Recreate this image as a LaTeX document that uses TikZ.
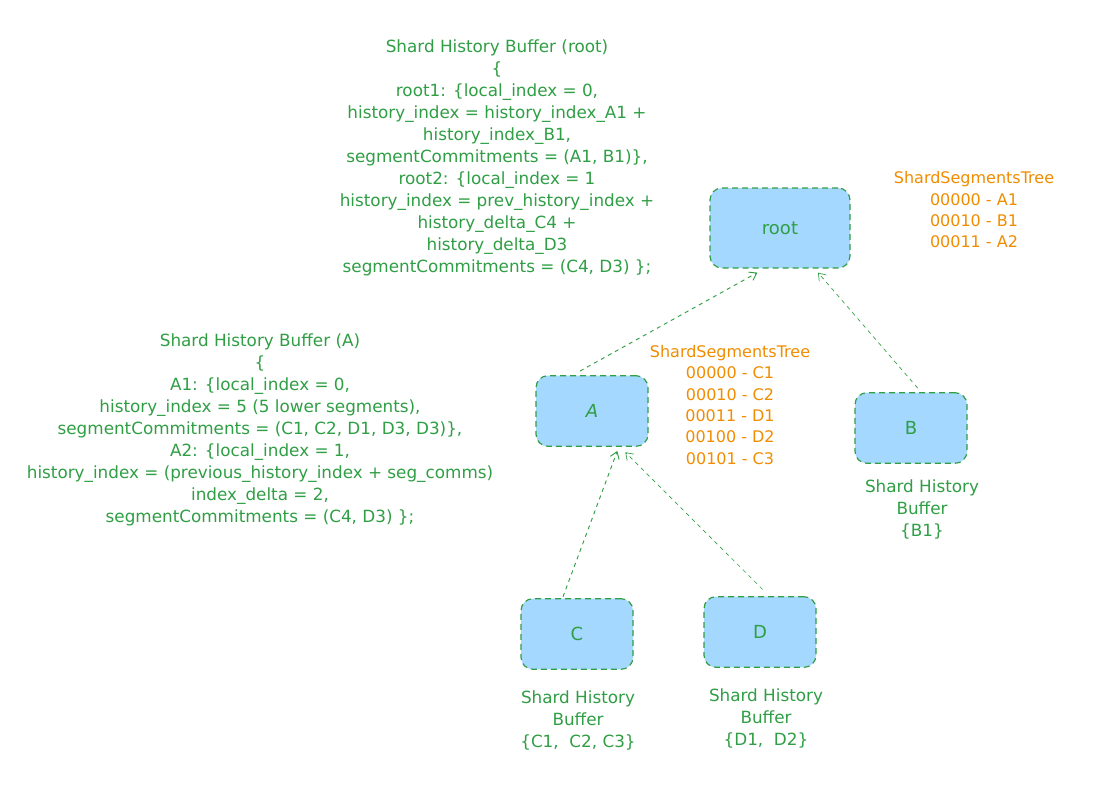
\documentclass[tikz,border=0pt]{standalone}
\usepackage{fontspec}
\setmainfont{DejaVu Sans}
\usetikzlibrary{arrows.meta}
\definecolor{shardGreen}{HTML}{2F9E44}
\definecolor{shardBlue}{HTML}{A5D8FF}
\definecolor{shardOrange}{HTML}{F08C00}
\begin{document}
\begin{tikzpicture}[x=0.75pt, y=-0.75pt,
  shardbox/.style={draw=shardGreen, fill=shardBlue, dash pattern=on 4.5pt off 3pt,
    line width=0.9pt, rounded corners=9pt, minimum width=84pt, minimum height=53pt,
    text=shardGreen, font=\fontsize{13.5}{15}\selectfont},
  notes/.style={text=shardGreen, align=center, inner sep=0pt,
    font=\fontsize{12.6}{16.5}\selectfont},
  treenote/.style={text=shardOrange, align=center, inner sep=0pt,
    font=\fontsize{12}{16}\selectfont},
  link/.style={draw=shardGreen, dashed, line width=0.7pt,
    -{Straight Barb[length=5pt, width=7pt]}}]
\useasboundingbox (0,0) rectangle (1115,803);
% Shard boxes
\node[shardbox, minimum width=105pt, minimum height=60pt] (root) at (780,228) {root};
\node[shardbox] (A) at (592,411) {\itshape A};
\node[shardbox] (B) at (911,428) {B};
\node[shardbox] (C) at (577,634) {C};
\node[shardbox] (D) at (760,632) {D};
% Links to parents
\draw[link] ([xshift=-9pt, yshift=3pt]A.north) -- ([xshift=-17pt, yshift=-3pt]root.south);
\draw[link, line width=0.5pt] ([xshift=5pt, yshift=3pt]B.north) -- ([xshift=28.5pt, yshift=-3pt]root.south);
\draw[link] ([xshift=-10.5pt, yshift=1pt]C.north) -- ([xshift=19pt, yshift=-3pt]A.south);
\draw[link, line width=0.5pt] ([xshift=2pt, yshift=5pt]D.north) -- ([xshift=25pt, yshift=-4pt]A.south);
% History buffers
\node[notes] (rootbuf) at (497,157.5) {Shard History Buffer (root)\\ \{\\
  root1: \{local\_index = 0,\\ history\_index = history\_index\_A1 +\\
  history\_index\_B1,\\ segmentCommitments = (A1, B1)\},\\
  root2: \{local\_index = 1\\ history\_index = prev\_history\_index +\\
  history\_delta\_C4 +\\ history\_delta\_D3\\ segmentCommitments = (C4, D3) \};};
\node[notes] (Abuf) at (260,429.5) {Shard History Buffer (A)\\ \{\\
  A1: \{local\_index = 0,\\ history\_index = 5 (5 lower segments),\\
  segmentCommitments = (C1, C2, D1, D3, D3)\},\\ A2: \{local\_index = 1,\\
  history\_index = (previous\_history\_index + seg\_comms)\\
  index\_delta = 2,\\ segmentCommitments = (C4, D3) \};};
\node[notes] (Bbuf) at (922,509) {Shard History\\ Buffer\\ \{B1\}};
\node[notes] (Cbuf) at (578,720) {Shard History\\ Buffer\\ \{C1,~ C2, C3\}};
\node[notes] (Dbuf) at (766,718) {Shard History\\ Buffer\\ \{D1,~ D2\}};
% Segment trees
\node[treenote] (roottree) at (974,210) {ShardSegmentsTree\\ 00000 - A1\\ 00010 - B1\\ 00011 - A2};
\node[treenote] (Atree) at (730,405) {ShardSegmentsTree\\ 00000 - C1\\ 00010 - C2\\
  00011 - D1\\ 00100 - D2\\ 00101 - C3};
\end{tikzpicture}
\end{document}
